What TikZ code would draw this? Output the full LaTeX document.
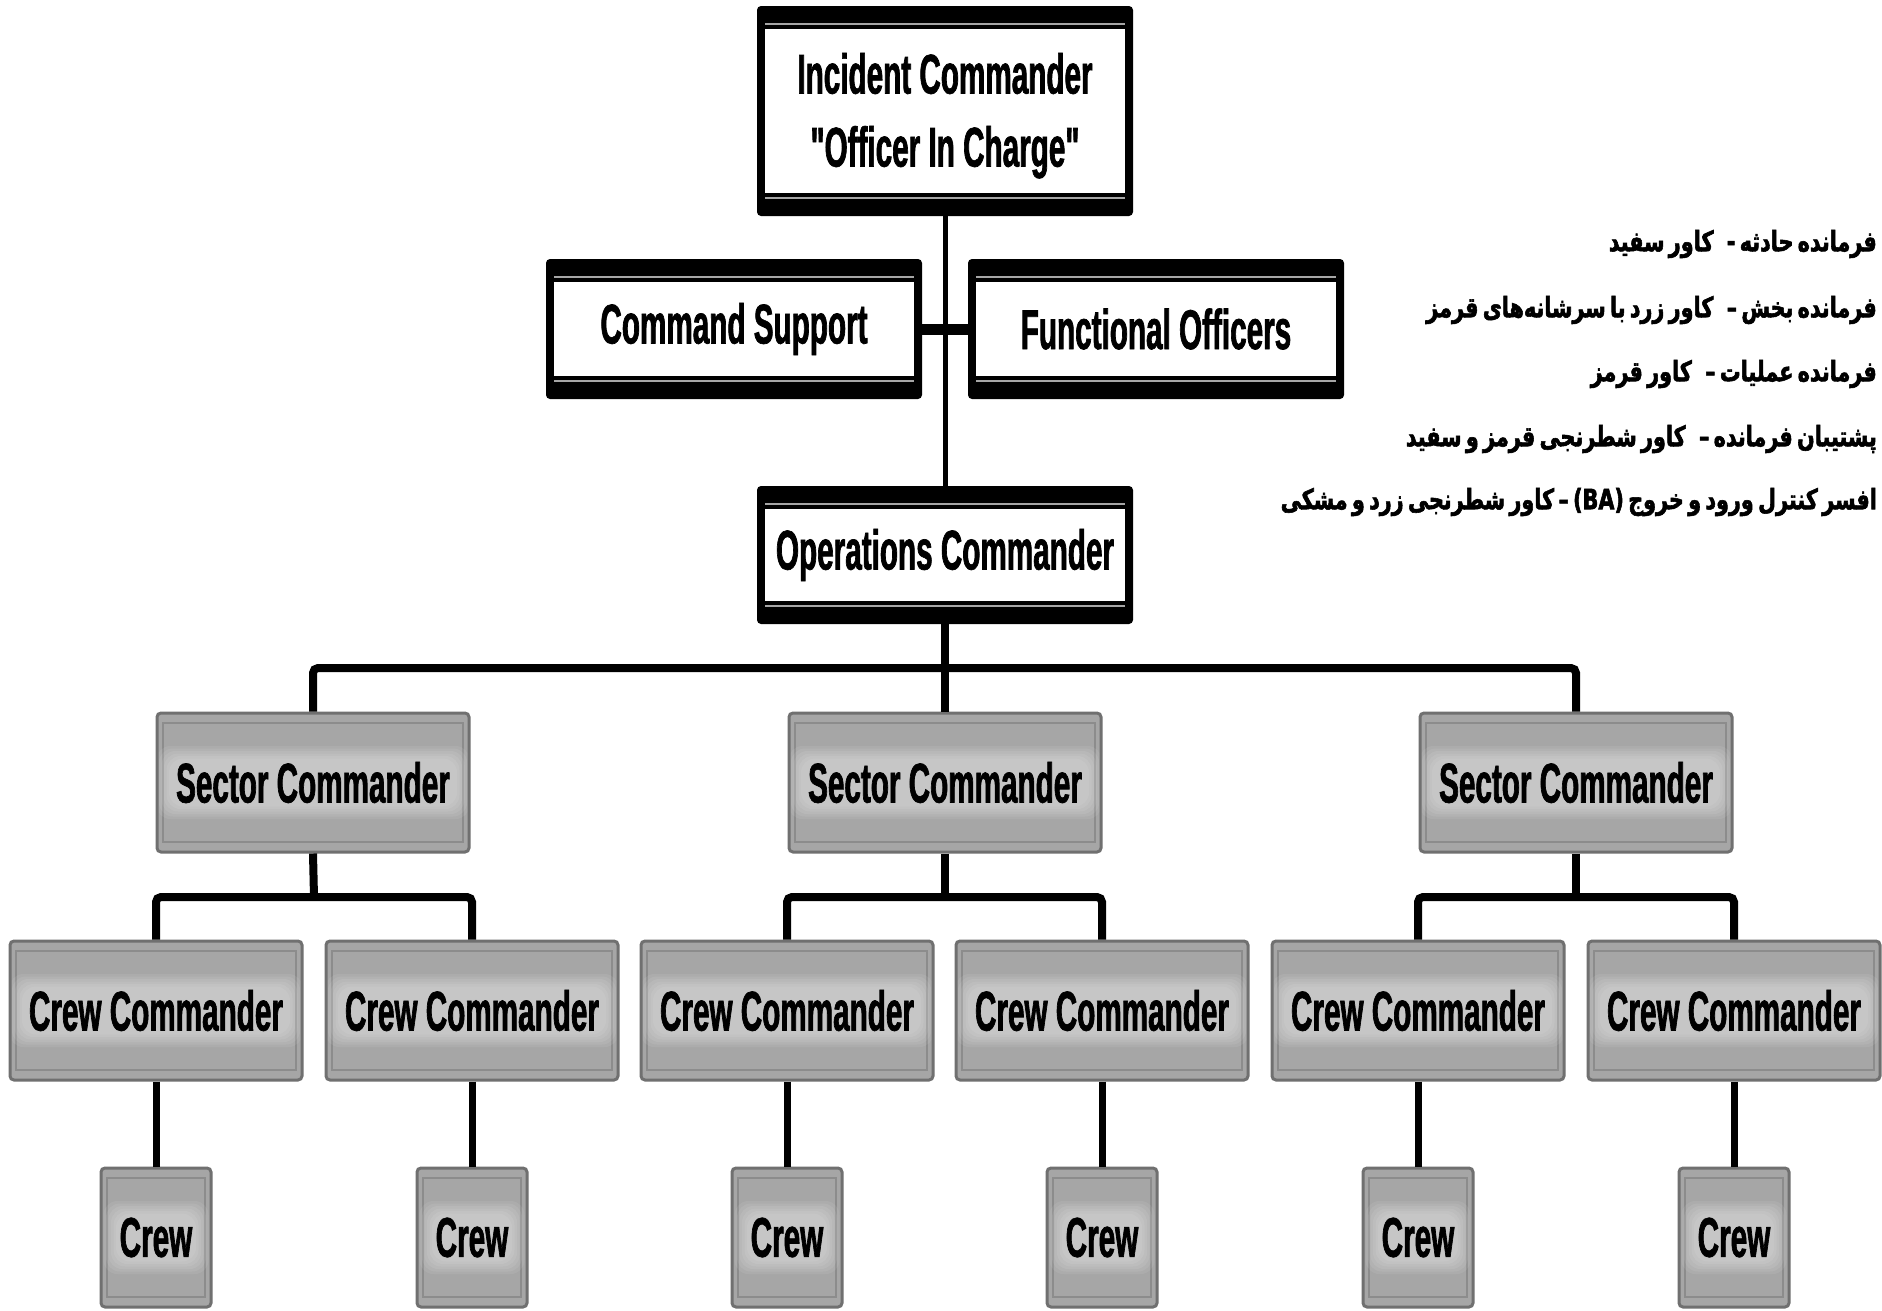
\documentclass[tikz,border=0pt]{standalone}
\usepackage{fontspec}
\newfontfamily\boxfont{Liberation Sans Bold}[FakeStretch=0.53,FakeBold=1.2]
\newfontfamily\farsi[Script=Arabic,FakeStretch=0.74,FakeBold=2,WordSpace=0.6]{DejaVu Sans Bold}
\TeXXeTstate=1
\definecolor{boxgray}{RGB}{166,166,166}
\definecolor{boxedge}{RGB}{112,112,112}
\definecolor{boxband}{RGB}{140,140,140}
% inner bevel line of a grey box plus a soft light band behind its label
\newcommand{\grayinside}[2]{%
  \draw[boxband,line width=1.5pt,sharp corners]
    ([xshift=6pt,yshift=-10pt]path picture bounding box.north west)
    rectangle ([xshift=-6pt,yshift=10pt]path picture bounding box.south east);
  \foreach \k in {0,...,5}{%
    \fill[white,opacity=0.08,rounded corners=14pt]
      ([xshift={-#1-\k*2.5pt},yshift={-#2-\k*2.5pt}]path picture bounding box.center)
      rectangle ([xshift={#1+\k*2.5pt},yshift={#2+\k*2.5pt}]path picture bounding box.center);}%
}
\newcommand{\gap}{\hspace{9pt}}
\tikzset{
  label font/.style={font=\boxfont\fontsize{56}{73}\selectfont},
  whitebox/.style={label font, fill=black, rounded corners=4pt, inner sep=0pt, align=center,
    path picture={
      \fill[white,sharp corners] ([xshift=8pt,yshift=-23pt]path picture bounding box.north west)
        rectangle ([xshift=-8pt,yshift=23pt]path picture bounding box.south east);
      \draw[white!65!black,line width=1.6pt,sharp corners]
        ([xshift=8pt,yshift=-18pt]path picture bounding box.north west) --
        ([xshift=-8pt,yshift=-18pt]path picture bounding box.north east)
        ([xshift=8pt,yshift=18pt]path picture bounding box.south west) --
        ([xshift=-8pt,yshift=18pt]path picture bounding box.south east);
    }},
  graybox/.style 2 args={label font, fill=boxgray, draw=boxedge, line width=3pt, rounded corners=4pt,
    inner sep=0pt, align=center, path picture={\grayinside{#1}{#2}}},
  sectorbox/.style={graybox={144pt}{24pt}, minimum width=312pt, minimum height=139pt},
  crewcmd/.style={graybox={134pt}{24pt}, minimum width=292pt, minimum height=139pt},
  crewbox/.style={graybox={40pt}{24pt}, minimum width=110pt, minimum height=139pt},
  conn/.style={draw=black, line width=8pt, rounded corners=5pt},
  legend/.style={anchor=east, inner sep=0pt, font=\farsi\fontsize{28}{30}\selectfont}
}
\begin{document}
\begin{tikzpicture}[x=1pt,y=-1pt]
  \useasboundingbox[fill=white] (0,0) rectangle (1882,1310);

  % command level
  \node[whitebox, minimum width=376pt, minimum height=210pt] (ic) at (945,111)
    {\rule{0pt}{50pt}Incident Commander\\"Officer In Charge"};
  \node[whitebox, minimum width=376pt, minimum height=140pt] (cs) at (734,329) {Command Support};
  \node[whitebox, minimum width=376pt, minimum height=140pt] (fo) at (1156,329) {Functional Officers};
  \node[whitebox, minimum width=376pt, minimum height=138pt] (ops) at (945,555) {Operations Commander};

  % sectors
  \node[sectorbox] (s1) at (313,782.5) {Sector Commander};
  \node[sectorbox] (s2) at (945,782.5) {Sector Commander};
  \node[sectorbox] (s3) at (1576,782.5) {Sector Commander};

  % crew commanders
  \node[crewcmd] (c1) at (156,1010.5) {Crew Commander};
  \node[crewcmd] (c2) at (472,1010.5) {Crew Commander};
  \node[crewcmd] (c3) at (787,1010.5) {Crew Commander};
  \node[crewcmd] (c4) at (1102,1010.5) {Crew Commander};
  \node[crewcmd] (c5) at (1418,1010.5) {Crew Commander};
  \node[crewcmd] (c6) at (1734,1010.5) {Crew Commander};

  % crews
  \node[crewbox] (w1) at (156,1237.5) {Crew};
  \node[crewbox] (w2) at (472,1237.5) {Crew};
  \node[crewbox] (w3) at (787,1237.5) {Crew};
  \node[crewbox] (w4) at (1102,1237.5) {Crew};
  \node[crewbox] (w5) at (1418,1237.5) {Crew};
  \node[crewbox] (w6) at (1734,1237.5) {Crew};

  % bus junctions
  \coordinate (opsbus) at (945,668);
  \coordinate (b1) at (314,897);
  \coordinate (b2) at (945,897);
  \coordinate (b3) at (1576,897);

  % connectors
  \draw[line width=5pt] (ic.south) -- (ops.north);
  \draw[line width=11pt] (cs.east) -- (fo.west);
  \draw[conn] (s1.north) |- (opsbus) -| (s3.north);
  \draw[conn] (ops.south) -- (opsbus) -- (s2.north);
  \draw[conn] (c1.north) |- (b1) -| (c2.north);
  \draw[conn] (s1.south) -- (b1);
  \draw[conn] (c3.north) |- (b2) -| (c4.north);
  \draw[conn] (s2.south) -- (b2);
  \draw[conn] (c5.north) |- (b3) -| (c6.north);
  \draw[conn] (s3.south) -- (b3);
  \foreach \i in {1,...,6} {\draw[line width=7pt] (c\i.south) -- (w\i.north);}

  % role colour legend
  \node[legend] (p1) at (1877,244) {\beginR فرمانده حادثه - \gap کاور سفید\endR};
  \node[legend] (p2) at (1877,310) {\beginR فرمانده بخش – \gap کاور زرد با سرشانه‌های قرمز\endR};
  \node[legend] (p3) at (1877,374) {\beginR فرمانده عملیات – \gap کاور قرمز\endR};
  \node[legend] (p4) at (1877,439) {\beginR پشتیبان فرمانده – \gap کاور شطرنجی قرمز و سفید\endR};
  \node[legend] (p5) at (1877,502) {\beginR افسر کنترل ورود و خروج \beginL(BA)\endL{} – کاور شطرنجی زرد و مشکی\endR};
\end{tikzpicture}
\end{document}
